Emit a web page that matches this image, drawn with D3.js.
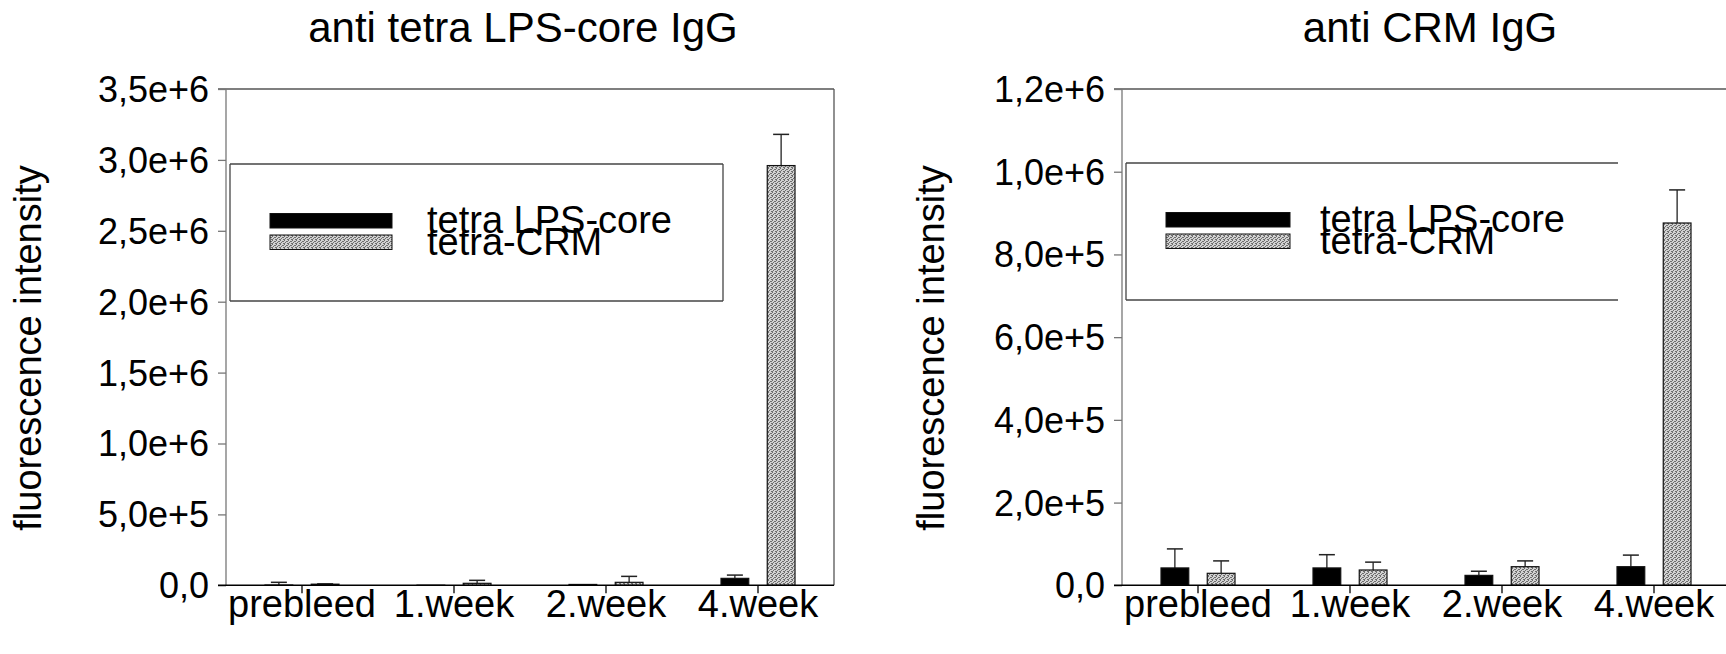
<!DOCTYPE html>
<html>
<head>
<meta charset="utf-8">
<script src="https://cdn.jsdelivr.net/npm/d3@7"></script>
<style>
  html, body { margin: 0; padding: 0; background: #fff; }
  svg { display: block; }
  text { font-family: "Liberation Sans", Arial, sans-serif; fill: #000; }
</style>
</head>
<body>
<svg id="chart" width="1726" height="654"></svg>
<script>
// ---------- data ----------
const categories = ["prebleed", "1.week", "2.week", "4.week"];
const seriesNames = ["tetra LPS-core", "tetra-CRM"];

// chart 1: anti tetra LPS-core IgG
const lpsTitle = "anti tetra LPS-core IgG";
const lpsCoreValues = [2000, 1000, 6000, 49000];
const lpsCoreErrors = [19000, 0, 0, 23000];
const lpsCrmValues = [8000, 14000, 21000, 2960000];
const lpsCrmErrors = [2000, 21000, 42000, 220000];
const lpsTickValues = [0, 500000, 1000000, 1500000, 2000000, 2500000, 3000000, 3500000];
const lpsTickLabels = ["0,0", "5,0e+5", "1,0e+6", "1,5e+6", "2,0e+6", "2,5e+6", "3,0e+6", "3,5e+6"];

// chart 2: anti CRM IgG
const crmTitle = "anti CRM IgG";
const crmCoreValues = [42000, 42000, 24000, 45000];
const crmCoreErrors = [46000, 32000, 10000, 28000];
const crmCrmValues = [29000, 37000, 45000, 876000];
const crmCrmErrors = [30000, 19000, 14000, 80000];
const crmTickValues = [0, 200000, 400000, 600000, 800000, 1000000, 1200000];
const crmTickLabels = ["0,0", "2,0e+5", "4,0e+5", "6,0e+5", "8,0e+5", "1,0e+6", "1,2e+6"];

const yLabel = "fluorescence intensity";

// ---------- drawing ----------
const svg = d3.select("#chart");

const defs = svg.append("defs");
const pat = defs.append("pattern")
  .attr("id", "stipple").attr("patternUnits", "userSpaceOnUse")
  .attr("width", 4).attr("height", 4);
pat.append("rect").attr("width", 4).attr("height", 4).attr("fill", "#d2d2d2");
[[0,0],[2,1],[1,2],[3,3],[3,1],[0,3]].forEach(([x,y]) =>
  pat.append("rect").attr("x", x).attr("y", y).attr("width", 1).attr("height", 1).attr("fill", "#6e6e6e"));

function addText(g, x, y, str, size, anchor, rot) {
  return g.append("text")
    .attr("transform", `translate(${x},${y})` + (rot ? ` rotate(${rot})` : ""))
    .attr("text-anchor", anchor)
    .style("font-size", size + "px")
    .text(str);
}

function drawChart(cfg) {
  const g = svg.append("g");
  const x0 = d3.scaleBand().domain(categories).range([cfg.left, cfg.left + cfg.width]).padding(0);
  const x1 = d3.scaleBand().domain(seriesNames).range([-37, 37]).paddingInner(0.4).paddingOuter(0);
  const y = d3.scaleLinear().domain([cfg.ticks[0], cfg.ticks[cfg.ticks.length - 1]]).range([cfg.bottom, cfg.top]);
  const rightEdge = Math.min(cfg.left + cfg.width, 1726);

  // frame top line
  const yTop = y(cfg.ticks[cfg.ticks.length - 1]);
  g.append("line").attr("x1", cfg.left - 8).attr("x2", rightEdge)
    .attr("y1", yTop).attr("y2", yTop)
    .attr("stroke", "#555").attr("stroke-width", 1.3);
  if (cfg.left + cfg.width < 1726) {
    g.append("line").attr("x1", cfg.left + cfg.width).attr("x2", cfg.left + cfg.width)
      .attr("y1", cfg.top).attr("y2", cfg.bottom).attr("stroke", "#555").attr("stroke-width", 1.3);
  }

  // y axis
  const yAxis = d3.axisLeft(y).tickValues(cfg.ticks).tickSize(8).tickFormat("");
  const ya = g.append("g").attr("transform", `translate(${cfg.left},0)`).call(yAxis);
  ya.selectAll("path,line").attr("stroke", "#777").attr("stroke-width", 1.3);
  ya.select("path").attr("d", `M0,${cfg.bottom}V${cfg.top}`);
  cfg.ticks.forEach((t, i) => {
    addText(g, cfg.left - 17, y(t), cfg.tickLabels[i], 36, "end").attr("dy", "0.36em");
  });

  // bars + error bars
  const series = [
    { name: seriesNames[0], vals: cfg.coreVals, errs: cfg.coreErrs, fill: "#000" },
    { name: seriesNames[1], vals: cfg.crmVals, errs: cfg.crmErrs, fill: "url(#stipple)" }
  ];
  series.forEach(s => {
    categories.forEach((c, i) => {
      const bx = x0(c) + x0.bandwidth() / 2 + x1(s.name);
      const cx = bx + x1.bandwidth() / 2;
      const top = y(s.vals[i]);
      const et = y(s.vals[i] + s.errs[i]);
      if (s.errs[i] > 0) {
        g.append("line").attr("x1", cx).attr("x2", cx).attr("y1", top).attr("y2", et)
          .attr("stroke", "#222").attr("stroke-width", 1.3);
        g.append("line").attr("x1", cx - 8).attr("x2", cx + 8).attr("y1", et).attr("y2", et)
          .attr("stroke", "#222").attr("stroke-width", 1.5);
      }
      g.append("rect")
        .attr("x", bx).attr("y", top)
        .attr("width", x1.bandwidth())
        .attr("height", Math.max(0, y(0) - top))
        .attr("fill", s.fill)
        .attr("stroke", "#111").attr("stroke-width", 1.2);
    });
  });

  // x axis
  const xAxis = d3.axisBottom(x0).tickSize(8).tickFormat("");
  const xa = g.append("g").attr("transform", `translate(0,${cfg.bottom})`).call(xAxis);
  xa.selectAll("line").attr("stroke", "#000").attr("stroke-width", 1.3);
  xa.select("path").attr("d", `M${cfg.left - 8},0H${rightEdge}`)
    .attr("stroke", "#000").attr("stroke-width", 1.6);
  categories.forEach(c => {
    addText(g, x0(c) + x0.bandwidth() / 2, cfg.catBaseline, c, 38, "middle");
  });

  // title and y label
  addText(g, cfg.titleX, cfg.titleBaseline, cfg.title, 42, "middle");
  addText(g, cfg.left + cfg.yLabelDx, cfg.yLabelY, yLabel, 38, "middle", -90);

  // legend
  const L = cfg.legend;
  const lg = g.append("g");
  const seg = (x1_, y1_, x2_, y2_) => lg.append("line").attr("x1", x1_).attr("y1", y1_).attr("x2", x2_).attr("y2", y2_)
      .attr("stroke", "#444").attr("stroke-width", 1.3);
  seg(L.x, L.y, L.x2, L.y);
  seg(L.x, L.y2, L.x2, L.y2);
  seg(L.x, L.y, L.x, L.y2);
  if (L.closed) seg(L.x2, L.y, L.x2, L.y2);
  series.forEach((s, i) => {
    lg.append("rect").attr("x", L.x + L.swX).attr("y", L.y + 49.5 + i * 21.5)
      .attr("width", L.swW).attr("height", 14.5)
      .attr("fill", s.fill).attr("stroke", "#111").attr("stroke-width", 1);
    addText(lg, L.x + L.textX, L.y + 69 + i * 22, s.name, 38, "start");
  });
}

drawChart({
  left: 226, width: 608, top: 89, bottom: 585.3,
  ticks: lpsTickValues, tickLabels: lpsTickLabels,
  coreVals: lpsCoreValues, coreErrs: lpsCoreErrors,
  crmVals: lpsCrmValues, crmErrs: lpsCrmErrors,
  title: lpsTitle, titleX: 523, titleBaseline: 42,
  catBaseline: 617, yLabelDx: -185, yLabelY: 348,
  legend: { x: 230, x2: 723, y: 164, y2: 301, swX: 40, swW: 122, textX: 197, closed: true }
});

drawChart({
  left: 1122, width: 608, top: 89, bottom: 585.3,
  ticks: crmTickValues, tickLabels: crmTickLabels,
  coreVals: crmCoreValues, coreErrs: crmCoreErrors,
  crmVals: crmCrmValues, crmErrs: crmCrmErrors,
  title: crmTitle, titleX: 1430, titleBaseline: 42,
  catBaseline: 617, yLabelDx: -178, yLabelY: 348,
  legend: { x: 1126, x2: 1618, y: 163, y2: 300, swX: 40, swW: 124, textX: 194, closed: false }
});
</script>
</body>
</html>
